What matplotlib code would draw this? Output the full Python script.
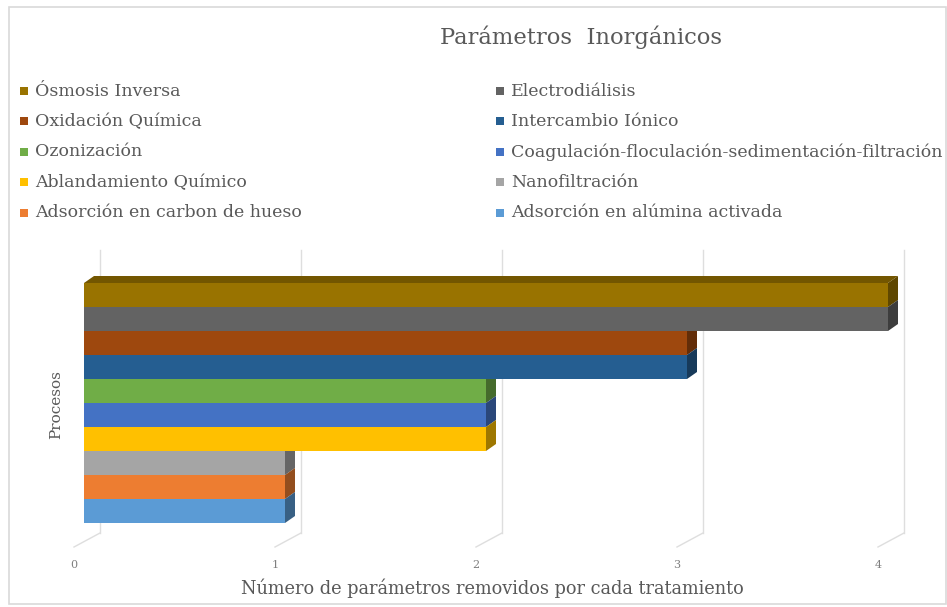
import matplotlib
matplotlib.use("Agg")
import matplotlib.pyplot as plt
import matplotlib.colors as mcolors
from matplotlib.patches import Polygon, Rectangle
from matplotlib.lines import Line2D
from matplotlib.transforms import ScaledTranslation, IdentityTransform

# ---- data -------------------------------------------------------------
processes = [
    "Ósmosis Inversa",
    "Electrodiálisis",
    "Oxidación Química",
    "Intercambio Iónico",
    "Ozonización",
    "Coagulación-floculación-sedimentación-filtración",
    "Ablandamiento Químico",
    "Nanofiltración",
    "Adsorción en carbon de hueso",
    "Adsorción en alúmina activada",
]
removed = [4, 4, 3, 3, 2, 2, 2, 1, 1, 1]
colors = ["#997300", "#636363", "#9E480E", "#255E91", "#70AD47",
          "#4472C4", "#FFC000", "#A5A5A5", "#ED7D31", "#5B9BD5"]
x_ticks = [0, 1, 2, 3, 4]
title = "Parámetros  Inorgánicos"
xlabel = "Número de parámetros removidos por cada tratamiento"
ylabel = "Procesos"

# ---- figure -----------------------------------------------------------
W, H, DPI = 947, 607, 100
plt.rcParams["font.family"] = ["DejaVu Serif"]
fig = plt.figure(figsize=(W / DPI, H / DPI), dpi=DPI)
fig.patch.set_facecolor("white")

TEXT = "#595959"
GRID = "#dedede"


def fx(px):
    return px / W


def fy(py):
    return 1 - py / H


# chart border
fig.add_artist(Rectangle((fx(9), fy(604)), fx(946) - fx(9), (604 - 7) / H,
                         transform=fig.transFigure, fill=False,
                         edgecolor="#d9d9d9", linewidth=1.2))

# plot area (front plane of the bars)
n = len(removed)
ax = fig.add_axes([fx(84), fy(523), fx(888) - fx(84), (523 - 283) / H])
ax.set_xlim(0, 4)
ax.set_ylim(0, n)
ax.axis("off")

ident = IdentityTransform()


def disp(x, y, dx=0.0, dy=0.0):
    """Data point -> display pixels, shifted by (dx, dy) pixels."""
    px, py = ax.transData.transform((x, y))
    return (px + dx, py + dy)


def shifted(dx, dy):
    return ax.transData + ScaledTranslation(dx / DPI, dy / DPI, fig.dpi_scale_trans)


# depth of bars, back wall and floor (pixels)
DEPTH = (10, 7)
WALL = (16, -10)
FLOOR = (-10, -24)
WALL_TOP = 33

# gridlines on the back wall + floor, behind the bars
for t in x_ticks:
    b0 = disp(t, 0, *WALL)
    b1 = disp(t, n, WALL[0], WALL_TOP)
    f0 = disp(t, 0, *FLOOR)
    ax.add_line(Line2D([b0[0], b1[0]], [b0[1], b1[1]], transform=ident,
                       color=GRID, lw=1.0, zorder=1, clip_on=False))
    ax.add_line(Line2D([b0[0], f0[0]], [b0[1], f0[1]], transform=ident,
                       color=GRID, lw=1.0, zorder=1, clip_on=False))
    ax.text(t, 0, str(t), transform=shifted(-10, -42), ha="center", va="center",
            fontsize=8, color="#7f7f7f")

# bars: top of the list drawn at the top of the stack
ypos = [n - 1 - i for i in range(n)]


def darker(c, f):
    r, g, b = mcolors.to_rgb(c)
    return (r * f, g * f, b * f)


for y, v, c in zip(ypos, removed, colors):
    # right-hand side face
    pts = [disp(v, y), disp(v, y + 1), disp(v, y + 1, *DEPTH), disp(v, y, *DEPTH)]
    ax.add_patch(Polygon(pts, closed=True, transform=ident, facecolor=darker(c, 0.62),
                         edgecolor="none", clip_on=False, zorder=2))
    # top face (only visible on the topmost bar)
    if y == n - 1:
        pts = [disp(0, y + 1), disp(v, y + 1), disp(v, y + 1, *DEPTH), disp(0, y + 1, *DEPTH)]
        ax.add_patch(Polygon(pts, closed=True, transform=ident, facecolor=darker(c, 0.75),
                             edgecolor="none", clip_on=False, zorder=2))

ax.barh(ypos, removed, height=1.0, left=0, align="edge", color=colors,
        edgecolor="none", zorder=3)

# titles
fig.text(fx(581), fy(37), title, ha="center", va="center", fontsize=16.3, color=TEXT)
fig.text(fx(492), fy(588), xlabel, ha="center", va="center", fontsize=12.75, color=TEXT)
fig.text(fx(56), fy(405), ylabel, ha="center", va="center", rotation=90,
         fontsize=11, color=TEXT)

# legend, two columns
col_x = [24, 500]
for i, (name, c) in enumerate(zip(processes, colors)):
    col, row = i % 2, i // 2
    yy = 91 + 30.4 * row
    xx = col_x[col]
    fig.add_artist(Rectangle((fx(xx - 4), fy(yy + 4)), 8 / W, 8 / H,
                             transform=fig.transFigure, facecolor=c, edgecolor="none"))
    fig.text(fx(xx + 11), fy(yy), name, ha="left", va="center", fontsize=12.5, color=TEXT)

fig.savefig("out.png", dpi=DPI, facecolor="white")
